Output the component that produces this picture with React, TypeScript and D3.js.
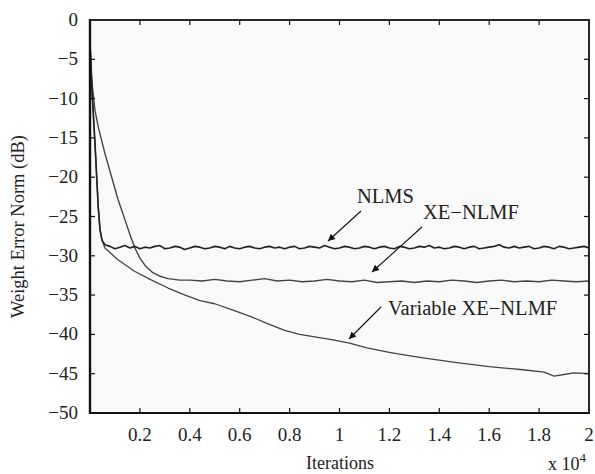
import React from "react";
import * as d3 from "d3";

// x in units of 10^4 iterations, y in dB
const nlms: [number, number][] = [
  [0, -3], [0.008, -9], [0.02, -15.7], [0.033, -23.8], [0.04, -26.7], [0.048, -28.0], [0.06, -28.6],
  [0.08, -28.8], [0.1, -29.1], [0.12, -28.9], [0.14, -28.7], [0.16, -29.0], [0.18, -28.8], [0.2, -29.1],
  [0.22, -28.9], [0.24, -29.0], [0.26, -28.8], [0.28, -28.7], [0.3, -29.1], [0.32, -29.0], [0.34, -28.8],
  [0.36, -28.9], [0.38, -29.2], [0.4, -29.0], [0.42, -28.8], [0.44, -28.9], [0.46, -29.1], [0.48, -29.0],
  [0.5, -28.8], [0.52, -28.9], [0.54, -29.1], [0.56, -28.8], [0.58, -29.0], [0.6, -29.1], [0.62, -28.9],
  [0.64, -28.8], [0.66, -29.0], [0.68, -29.1], [0.7, -28.9], [0.72, -28.8], [0.74, -29.0], [0.76, -28.9],
  [0.78, -29.1], [0.8, -28.9], [0.82, -28.8], [0.84, -29.1], [0.86, -29.0], [0.88, -28.8], [0.9, -28.9],
  [0.92, -29.0], [0.94, -28.7], [0.96, -28.9], [0.98, -29.1], [1.0, -29.0], [1.02, -28.8], [1.04, -28.9],
  [1.06, -29.1], [1.08, -29.0], [1.1, -28.8], [1.12, -28.9], [1.14, -29.1], [1.16, -28.9], [1.18, -28.8],
  [1.2, -29.0], [1.22, -29.1], [1.24, -28.8], [1.26, -28.9], [1.28, -29.1], [1.3, -29.0], [1.32, -28.8],
  [1.34, -28.9], [1.36, -28.7], [1.38, -29.0], [1.4, -28.9], [1.42, -29.1], [1.44, -29.0], [1.46, -28.8],
  [1.48, -28.9], [1.5, -29.1], [1.52, -28.9], [1.54, -28.8], [1.56, -29.1], [1.58, -29.0], [1.6, -28.9],
  [1.62, -28.8], [1.64, -28.6], [1.66, -28.9], [1.68, -29.0], [1.7, -28.8], [1.72, -29.0], [1.74, -28.9],
  [1.76, -28.8], [1.78, -29.1], [1.8, -29.0], [1.82, -28.8], [1.84, -28.9], [1.86, -29.1], [1.88, -28.8],
  [1.9, -28.9], [1.92, -29.1], [1.94, -29.0], [1.96, -28.9], [1.98, -28.8], [2.0, -29.0],
];

const xeNlmf: [number, number][] = [
  [0, -3], [0.008, -8], [0.02, -11.5], [0.033, -13.6], [0.06, -17], [0.087, -20], [0.113, -22.9],
  [0.14, -25.4], [0.16, -27.3], [0.18, -29.0], [0.2, -30.3], [0.225, -31.4], [0.25, -32.1],
  [0.28, -32.6], [0.313, -32.9], [0.36, -33.1],
  [0.4, -33.1], [0.45, -33.2], [0.5, -33.0], [0.55, -33.2], [0.6, -33.3], [0.65, -33.1], [0.7, -32.9],
  [0.75, -33.2], [0.8, -33.1], [0.85, -33.3], [0.9, -33.2], [0.95, -33.0], [1.0, -33.2], [1.05, -33.3],
  [1.1, -33.1], [1.15, -33.4], [1.2, -33.3], [1.25, -33.2], [1.3, -33.4], [1.35, -33.2], [1.4, -33.3],
  [1.45, -33.1], [1.5, -33.2], [1.55, -33.4], [1.6, -33.2], [1.65, -33.1], [1.7, -33.3], [1.75, -33.2],
  [1.8, -33.3], [1.85, -33.1], [1.9, -33.2], [1.95, -33.3], [2.0, -33.2],
];

const variableXe: [number, number][] = [
  [0, -3], [0.008, -9], [0.02, -15.7], [0.033, -23.8], [0.04, -26.5], [0.048, -28.0], [0.06, -29],
  [0.112, -30.5], [0.18, -32], [0.247, -33.1], [0.313, -34.1], [0.381, -35], [0.441, -35.7],
  [0.5, -36.1], [0.573, -36.9], [0.65, -37.8], [0.709, -38.6], [0.78, -39.5], [0.84, -40.0],
  [0.974, -40.7], [1.04, -41.1], [1.11, -41.7], [1.2, -42.3], [1.24, -42.5], [1.335, -43.0],
  [1.47, -43.6], [1.6, -44.1], [1.735, -44.5], [1.82, -44.8], [1.86, -45.3], [1.9, -45.1],
  [1.94, -44.9], [2.0, -45.0],
];

const xTicks = [0.2, 0.4, 0.6, 0.8, 1, 1.2, 1.4, 1.6, 1.8, 2];
const yTicks = [0, -5, -10, -15, -20, -25, -30, -35, -40, -45, -50];

// label text, text anchor point, arrow start, arrow end
const notes = [
  { label: "NLMS", tx: 357, ty: 203, from: [361, 211], to: [328, 241] },
  { label: "XE\u2212NLMF", tx: 423, ty: 219, from: [422, 227], to: [372, 272] },
  { label: "Variable XE\u2212NLMF", tx: 388, ty: 315, from: [381, 307], to: [349, 339] },
];

const font = "'Liberation Serif', 'Times New Roman', serif";

export default function App() {
  const left = 90, right = 589, top = 20, bottom = 413;
  const x = d3.scaleLinear().domain([0, 2]).range([left, right]);
  const y = d3.scaleLinear().domain([-50, 0]).range([bottom, top]);
  const line = d3.line<[number, number]>().x(d => x(d[0])).y(d => y(d[1]));
  const fmt = (v: number) => (v < 0 ? "\u2212" + Math.abs(v) : String(v));

  return (
    <svg width={595} height={474} style={{ position: "absolute", left: 0, top: 0, background: "#fff" }}>
      <defs>
        <clipPath id="plot">
          <rect x={left} y={top} width={right - left} height={bottom - top} />
        </clipPath>
        <marker id="head" viewBox="0 0 10 10" refX="10" refY="5" markerWidth="9" markerHeight="7"
          markerUnits="userSpaceOnUse" orient="auto">
          <path d="M0,0L10,5L0,10Z" fill="#111" />
        </marker>
      </defs>
      <rect x={left} y={top} width={right - left} height={bottom - top} fill="#f9f9f9" />
      <g clipPath="url(#plot)" fill="none" strokeLinejoin="round">
        <path d={line(xeNlmf) ?? ""} stroke="#444" strokeWidth={1.4} />
        <path d={line(variableXe) ?? ""} stroke="#444" strokeWidth={1.3} />
        <path d={line(nlms) ?? ""} stroke="#222" strokeWidth={1.6} />
      </g>

      {notes.map(n => (
        <g key={n.label}>
          <text x={n.tx} y={n.ty} fontFamily={font} fontSize={20.5} fill="#222">{n.label}</text>
          <line x1={n.from[0]} y1={n.from[1]} x2={n.to[0]} y2={n.to[1]} stroke="#111" strokeWidth={1.1}
            markerEnd="url(#head)" />
        </g>
      ))}

      <g stroke="#111" strokeWidth={1.2}>
        {xTicks.filter(t => t < 2).map(t => (
          <g key={t}>
            <line x1={x(t)} x2={x(t)} y1={bottom} y2={bottom - 5} />
            <line x1={x(t)} x2={x(t)} y1={top} y2={top + 5} />
          </g>
        ))}
        {yTicks.filter(t => t > -50 && t < 0).map(t => (
          <g key={t}>
            <line x1={left} x2={left + 5} y1={y(t)} y2={y(t)} />
            <line x1={right} x2={right - 5} y1={y(t)} y2={y(t)} />
          </g>
        ))}
      </g>
      <rect x={left} y={top} width={right - left} height={bottom - top} fill="none" stroke="#111" strokeWidth={1.8} />
      <line x1={left} x2={left} y1={top - 1} y2={bottom + 1} stroke="#111" strokeWidth={2.4} />
      <line x1={left - 1} x2={right + 1} y1={bottom} y2={bottom} stroke="#111" strokeWidth={2.2} />

      <g fontFamily={font} fontSize={19} fill="#222">
        {xTicks.map(t => (
          <text key={t} x={x(t)} y={441} textAnchor="middle">{String(t)}</text>
        ))}
        {yTicks.map(t => (
          <text key={t} x={78} y={y(t) + 6} textAnchor="end">{fmt(t)}</text>
        ))}
        <text x={340} y={469} textAnchor="middle" fontSize={18}>Iterations</text>
        <text x={548} y={470} fontSize={18}>x 10<tspan fontSize={13} dy={-8}>4</tspan></text>
        <text transform={`translate(24,${(top + bottom) / 2 + 10}) rotate(-90)`} textAnchor="middle" fontSize={18.5}>
          Weight Error Norm (dB)
        </text>
      </g>
    </svg>
  );
}
